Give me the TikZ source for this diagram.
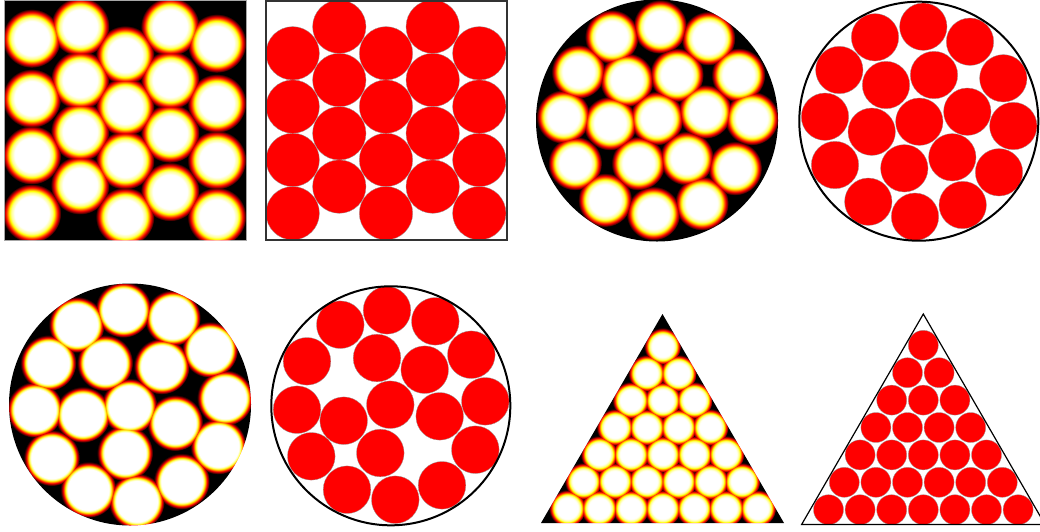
\documentclass[tikz,border=0pt]{standalone}
\usepackage{tikz}

\pgfdeclareradialshading{hotblob}{\pgfpoint{0bp}{0bp}}{%
  color(0bp)=(white); color(14.5bp)=(white); color(17.5bp)=(yellow!45!white);
  color(19bp)=(yellow); color(20.5bp)=(orange); color(22bp)=(red);
  color(23.5bp)=(red!50!black); color(25bp)=(black); color(50bp)=(black)}
\pgfdeclareradialshading{hotblobsharp}{\pgfpoint{0bp}{0bp}}{%
  color(0bp)=(white); color(18.5bp)=(white); color(19.75bp)=(yellow!50!white);
  color(20.5bp)=(yellow); color(21.5bp)=(orange); color(22.5bp)=(red);
  color(23.75bp)=(red!45!black); color(25bp)=(black); color(50bp)=(black)}

\begin{document}
\begin{tikzpicture}[
    x=1pt, y=-1pt,
    field/.style={fill=black},
    blob/.style={shading=hotblob},
    sharpblob/.style={shading=hotblobsharp},
    disc/.style={
        fill=red,
        draw=black!40,
        line width=0.3pt
    },
    wall/.style={draw=black, line width=2pt}
]

    \fill[white] (0,0) rectangle (1040,531);
    \useasboundingbox (0,0) rectangle (1040,531);

    % Square heat map
    \fill[field] (4,0) rectangle (246,240);
    \draw[gray!70, line width=1pt] (4,0) rectangle (246,240);
    \begin{scope}[blend mode=lighten]
        \foreach \x/\y in {31.7/38.3, 31.7/98.3, 31.7/155, 31.7/213.3,
                           80/26.7, 80/80, 80/131.7, 80/185,
                           125/55, 125/106.7, 125/160, 125/216.7,
                           170/26.7, 170/80, 170/133.3, 170/191.7,
                           216.7/43.3, 216.7/103.3, 216.7/160, 216.7/216.7}
            \shade[blob] (\x,\y) circle [radius=29.5pt];
    \end{scope}

    % Square packing
    \foreach \x/\y in {292.7/53.3, 339.3/26.7, 386/53.3, 432.7/26.7, 479.3/53.3}
        \foreach \k in {0,...,3}
            \fill[disc] (\x,{\y+53.3*\k}) circle [radius=26.7pt];
    \draw[wall, draw=black!80] (266,0.5) rectangle (506.5,240);

    % Disc heat map (top)
    \fill[field] (657,120.5) circle [radius=121pt];
    \begin{scope}[blend mode=lighten]
        \foreach \x/\y in {660/26.7, 611.7/36.7, 708.3/38.3,
                           578.3/71.7, 626.7/80, 676.7/75, 738.3/75,
                           563.3/116.7, 610/123.3, 656.7/118.3, 705/111.7, 751.7/118.3,
                           575/163.3, 638.3/163.3, 686.7/158.3, 735/168.3,
                           605/200, 653.3/213.3, 701.7/203.3}
            \shade[blob] (\x,\y) circle [radius=27pt];
    \end{scope}

    % Disc packing (top)
    \foreach \x/\y in {923.3/26.7, 875/37.3, 970/41.7,
                       839.3/70, 886/85, 934/75, 1003.3/78.3,
                       825/116.7, 871.7/131.7, 919.3/121.7, 967.3/111.7, 1013.3/126,
                       835/165, 904.3/168.3, 952.3/157.3, 999/172.3,
                       868.3/201.7, 915/216.7, 962.7/205}
        \fill[disc] (\x,\y) circle [radius=23.7pt];
    \draw[wall] (918.8,121.2) circle [radius=119.5pt];

    % Disc heat map (bottom)
    \fill[field] (130,404.5) circle [radius=121pt];
    \begin{scope}[blend mode=lighten]
        \foreach \x/\y in {123.3/309.7, 76.7/324.7, 172.7/318,
                           48.3/363, 105/363, 161.7/366.3, 210/349.7,
                           35/409.7, 82.7/414.7, 129.3/406.3, 175/423, 225/398,
                           51.7/458, 125/453, 218.3/446.3,
                           88.3/489.7, 136.7/501.3, 181.7/481.3}
            \shade[sharpblob] (\x,\y) circle [radius=28pt];
    \end{scope}

    % Disc packing (bottom)
    \foreach \x/\y in {340.3/324.7, 387/310.3, 435.3/321.3,
                       307/361.3, 377/358, 424.7/369.7, 471.3/354.7,
                       297/409.7, 343.7/420.7, 390.3/404.7, 439.7/416.3, 485.3/401.3,
                       311.3/456.3, 380.3/453, 475.3/449.7,
                       347/489.7, 395.3/499.7, 442/485.3}
        \fill[disc] (\x,\y) circle [radius=23.8pt];
    \draw[wall] (390.8,405.8) circle [radius=119.5pt];

    % Triangle heat map
    \fill[field] (662.5,314) -- (784,523) -- (541,523) -- cycle;
    \begin{scope}[blend mode=lighten]
        \foreach \i in {0,...,6}
            \foreach \j in {0,...,\i}
                \shade[blob] ({662.5+(\j-\i/2)*31.7},{346.3+\i*27}) circle [radius=18.5pt];
    \end{scope}

    % Triangle packing
    \foreach \i in {0,...,6}
        \foreach \j in {0,...,\i}
            \fill[disc] ({923.3+(\j-\i/2)*31.6},{345.3+\i*27.4}) circle [radius=15pt];
    \draw[black, line width=1.2pt] (923.3,314) -- (1045,524.5) -- (801.6,524.5) -- cycle;

\end{tikzpicture}
\end{document}
